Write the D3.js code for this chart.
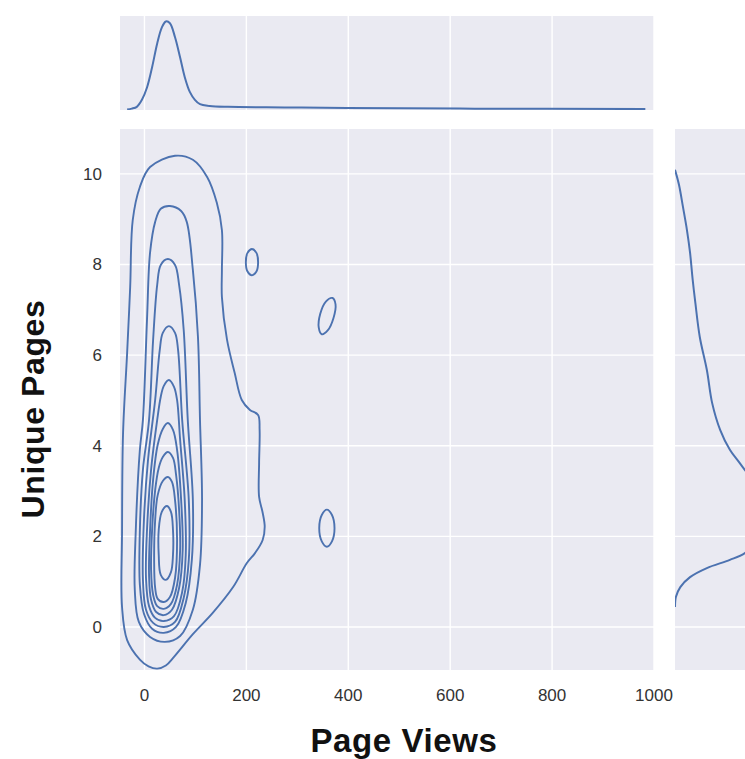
<!DOCTYPE html>
<html>
<head>
<meta charset="utf-8">
<script src="https://cdn.jsdelivr.net/npm/d3@7"></script>
<style>
  html, body { margin: 0; padding: 0; background: #ffffff; }
  svg { display: block; }
</style>
</head>
<body>
<svg id="chart" width="745" height="759"></svg>
<script>
// ---------------- DATA ----------------
const xTicks = [0, 200, 400, 600, 800, 1000];
const yTicks = [0, 2, 4, 6, 8, 10];
const xLabel = "Page Views";
const yLabel = "Unique Pages";

// KDE contour lines (Page Views, Unique Pages), outermost first
const contour1 = [[60,10.40],[95,10.31],[123,9.93],[142,9.36],[152,8.76],[152,7.88],[152,7.28],[162,6.34],[177,5.61],[191,5.01],[207,4.79],[223,4.68],[226,4.35],[225,3.62],[225,2.87],[232,2.52],[236,2.21],[232,1.92],[217,1.63],[201,1.41],[174,0.88],[134,0.31],[95,-0.16],[58,-0.66],[42,-0.85],[25,-0.92],[8,-0.87],[-9,-0.72],[-34,-0.29],[-44,0.44],[-44,2.08],[-42,4.28],[-34,6.05],[-28,7.51],[-23,8.98],[-9,9.71],[11,10.15]];
const contour2 = [[50,9.29],[72,9.18],[83,8.94],[95,7.88],[105,6.40],[109,4.57],[113,2.80],[109,1.37],[95,0.38],[70,-0.20],[40,-0.33],[11,-0.22],[-11,0.11],[-19,0.82],[-17,2.14],[-9,3.91],[-3,4.57],[5,6.78],[11,8.26],[21,8.94],[32,9.23]];
const contour3 = [[46,8.12],[60,7.99],[68,7.55],[77,6.56],[85,4.57],[95,2.80],[93,1.48],[81,0.53],[62,0.00],[38,-0.13],[15,-0.04],[-1,0.29],[-9,0.93],[-9,2.14],[-3,3.47],[9,4.57],[17,6.34],[25,7.55],[32,7.99]];
const contour4 = [[48,6.64],[60,6.49],[66,6.11],[74,4.57],[87,2.80],[87,1.48],[77,0.64],[60,0.11],[38,0.00],[17,0.09],[3,0.38],[-3,1.04],[-1,2.36],[7,3.69],[21,5.01],[30,6.11],[36,6.49]];
const contour5 = [[48,5.45],[58,5.30],[64,5.01],[70,4.13],[79,2.80],[81,1.59],[74,0.77],[58,0.24],[38,0.13],[21,0.20],[9,0.46],[3,1.08],[5,2.14],[13,3.47],[25,4.57],[32,5.08],[38,5.32]];
const contour6 = [[46,4.50],[56,4.35],[64,3.91],[72,2.80],[75,1.70],[68,0.86],[54,0.38],[38,0.26],[23,0.33],[13,0.60],[9,1.15],[11,2.14],[17,3.25],[26,4.02],[36,4.37]];
const contour7 = [[46,3.86],[56,3.73],[62,3.36],[68,2.58],[70,1.70],[64,0.93],[52,0.51],[38,0.40],[25,0.46],[17,0.71],[13,1.26],[15,2.14],[21,3.02],[28,3.51],[36,3.75]];
const contour8 = [[46,3.31],[54,3.20],[60,2.80],[64,1.92],[60,1.08],[50,0.66],[38,0.55],[26,0.62],[21,0.86],[19,1.48],[21,2.36],[26,2.91],[36,3.22]];
const contour9 = [[44,2.67],[52,2.54],[56,2.14],[56,1.59],[52,1.21],[42,1.04],[32,1.15],[28,1.59],[28,2.14],[34,2.54]];
// small islands of the outermost level
const islandA = [[211,8.34],[220,8.25],[223,8.05],[220,7.85],[211,7.76],[202,7.85],[199,8.05],[202,8.25]];
const islandB = [[369,7.26],[375,7.12],[371,6.82],[360,6.55],[348,6.46],[342,6.61],[345,6.91],[356,7.18]];
const islandC = [[358,2.59],[368,2.47],[373,2.18],[368,1.89],[358,1.77],[348,1.89],[343,2.18],[348,2.47]];

// marginal densities (relative)
const margX = [[-34,0.00],[-25,0.01],[-15,0.03],[-5,0.11],[5,0.25],[15,0.48],[25,0.75],[34,0.93],[42,1.00],[50,0.98],[60,0.82],[70,0.59],[79,0.37],[89,0.20],[99,0.11],[109,0.06],[128,0.04],[164,0.03],[275,0.023],[397,0.017],[648,0.009],[983,0.005]];
// [Unique Pages, density]
const margY = [[10.09,0.00],[9.76,0.045],[9.27,0.09],[8.76,0.135],[8.26,0.17],[7.66,0.20],[7.15,0.23],[6.40,0.28],[5.67,0.36],[4.94,0.42],[4.35,0.51],[3.91,0.62],[3.62,0.73],[3.29,0.85],[2.80,0.97],[2.30,1.02],[1.90,0.93],[1.63,0.79],[1.48,0.62],[1.30,0.36],[1.10,0.17],[0.88,0.06],[0.66,0.01],[0.44,0.00]];

// ---------------- DRAW ----------------
const svg = d3.select("#chart");
const bg = "#EAEAF2", blue = "#4C72B0", txt = "#333333";

const boxMain = {x0:120, x1:654, y0:129, y1:670};
const boxTop = {y0:16, y1:110};
const boxRight = {x0:675, x1:769};

const x = d3.scaleLinear().domain([-48, 1000]).range([boxMain.x0, boxMain.x1]);
const y = d3.scaleLinear().domain([-0.95, 10.99]).range([boxMain.y1, boxMain.y0]);
const yTop = d3.scaleLinear().domain([-0.006, 1.062]).range([boxTop.y1, boxTop.y0]);
const xRight = d3.scaleLinear().domain([0, 1.062]).range([boxRight.x0, boxRight.x1]);

const defs = svg.append("defs");
defs.append("clipPath").attr("id","clipMain").append("rect")
  .attr("x", boxMain.x0).attr("y", boxMain.y0).attr("width", boxMain.x1-boxMain.x0).attr("height", boxMain.y1-boxMain.y0);
defs.append("clipPath").attr("id","clipTop").append("rect")
  .attr("x", boxMain.x0).attr("y", boxTop.y0).attr("width", boxMain.x1-boxMain.x0).attr("height", boxTop.y1-boxTop.y0);
defs.append("clipPath").attr("id","clipRight").append("rect")
  .attr("x", boxRight.x0).attr("y", boxMain.y0).attr("width", boxRight.x1-boxRight.x0).attr("height", boxMain.y1-boxMain.y0);

// backgrounds
svg.append("rect").attr("x", boxMain.x0).attr("y", boxMain.y0).attr("width", boxMain.x1-boxMain.x0).attr("height", boxMain.y1-boxMain.y0).attr("fill", bg);
svg.append("rect").attr("x", boxMain.x0).attr("y", boxTop.y0).attr("width", boxMain.x1-boxMain.x0).attr("height", boxTop.y1-boxTop.y0).attr("fill", bg);
svg.append("rect").attr("x", boxRight.x0).attr("y", boxMain.y0).attr("width", boxRight.x1-boxRight.x0).attr("height", boxMain.y1-boxMain.y0).attr("fill", bg);

// grids
const gw = 1.4;
const gMain = svg.append("g").attr("clip-path","url(#clipMain)");
gMain.selectAll("line.vx").data(xTicks).join("line").attr("class","vx")
  .attr("x1", d=>x(d)).attr("x2", d=>x(d)).attr("y1", boxMain.y0).attr("y2", boxMain.y1)
  .attr("stroke","#fff").attr("stroke-width", gw);
gMain.selectAll("line.hy").data(yTicks).join("line").attr("class","hy")
  .attr("x1", boxMain.x0).attr("x2", boxMain.x1).attr("y1", d=>y(d)).attr("y2", d=>y(d))
  .attr("stroke","#fff").attr("stroke-width", gw);

const gTop = svg.append("g").attr("clip-path","url(#clipTop)");
gTop.selectAll("line").data(xTicks).join("line")
  .attr("x1", d=>x(d)).attr("x2", d=>x(d)).attr("y1", boxTop.y0).attr("y2", boxTop.y1)
  .attr("stroke","#fff").attr("stroke-width", gw);

const gRight = svg.append("g").attr("clip-path","url(#clipRight)");
gRight.selectAll("line").data(yTicks).join("line")
  .attr("x1", boxRight.x0).attr("x2", boxRight.x1).attr("y1", d=>y(d)).attr("y2", d=>y(d))
  .attr("stroke","#fff").attr("stroke-width", gw);

// contours
const closed = d3.line().x(d=>x(d[0])).y(d=>y(d[1])).curve(d3.curveCatmullRomClosed.alpha(0.5));
const contours = [contour1, islandA, islandB, islandC, contour2, contour3, contour4, contour5, contour6, contour7, contour8, contour9];
gMain.selectAll("path.kde").data(contours).join("path").attr("class","kde")
  .attr("d", closed)
  .attr("fill","none").attr("stroke", blue).attr("stroke-width", 1.9).attr("stroke-linejoin","round");

// marginals
const lineTop = d3.line().x(d=>x(d[0])).y(d=>yTop(d[1])).curve(d3.curveCatmullRom.alpha(0.5));
gTop.append("path").datum(margX).attr("d", lineTop)
  .attr("fill","none").attr("stroke", blue).attr("stroke-width", 2);

const lineRight = d3.line().x(d=>xRight(d[1])).y(d=>y(d[0])).curve(d3.curveCatmullRom.alpha(0.5));
gRight.append("path").datum(margY).attr("d", lineRight)
  .attr("fill","none").attr("stroke", blue).attr("stroke-width", 2);

// tick labels
const tickFont = "'Liberation Sans', Arial, sans-serif";
svg.append("g").selectAll("text").data(xTicks).join("text")
  .attr("x", d=>x(d)).attr("y", 701).attr("text-anchor","middle")
  .attr("font-family", tickFont).attr("font-size", 17).attr("fill", txt)
  .text(d=>d);
svg.append("g").selectAll("text").data(yTicks).join("text")
  .attr("x", 102).attr("y", d=>y(d)+6).attr("text-anchor","end")
  .attr("font-family", tickFont).attr("font-size", 17).attr("fill", txt)
  .text(d=>d);

// axis labels
svg.append("text").attr("x", 404).attr("y", 752).attr("text-anchor","middle")
  .attr("font-family", tickFont).attr("font-weight","bold").attr("font-size", 33)
  .attr("letter-spacing", 0.6).attr("fill", "#111")
  .text(xLabel);
svg.append("text").attr("transform","translate(44,409) rotate(-90)").attr("text-anchor","middle")
  .attr("font-family", tickFont).attr("font-weight","bold").attr("font-size", 32)
  .attr("letter-spacing", 0.6).attr("fill", "#111")
  .text(yLabel);
</script>
</body>
</html>
